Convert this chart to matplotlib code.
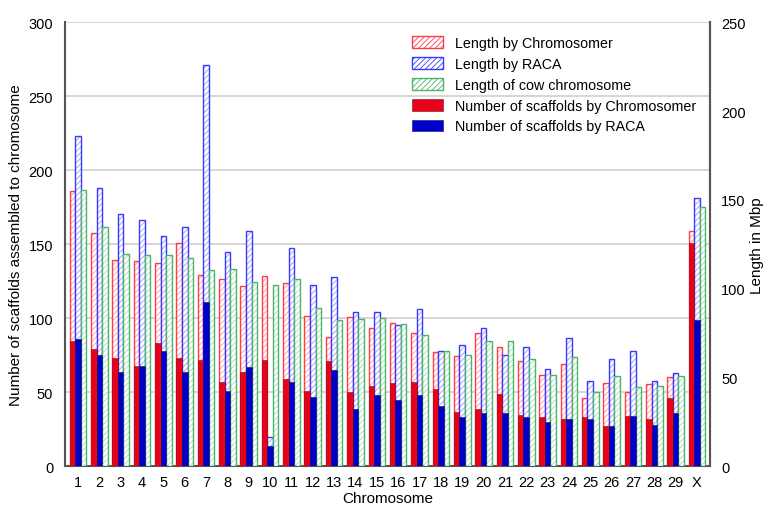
import matplotlib
matplotlib.use("Agg")
import matplotlib.pyplot as plt
import numpy as np
from matplotlib.patches import Patch

plt.rcParams['font.family'] = ['Liberation Sans', 'DejaVu Sans']
plt.rcParams['hatch.linewidth'] = 0.6

chromosomes = [str(i) for i in range(1, 30)] + ['X']

len_chromosomer = [155.0, 131.4, 116.0, 115.4, 114.3, 125.9, 107.9, 105.6, 101.7, 107.0,
                   103.4, 84.5, 73.0, 84.1, 77.7, 80.5, 74.9, 64.2, 62.1, 74.9,
                   67.0, 59.5, 51.6, 57.4, 38.6, 46.7, 41.7, 46.2, 50.3, 132.7]
len_raca = [186.2, 156.9, 142.1, 138.5, 129.7, 134.6, 225.8, 120.5, 132.3, 16.3,
            123.1, 102.3, 106.4, 87.0, 86.7, 79.7, 88.4, 65.1, 68.1, 78.0,
            62.9, 67.0, 54.8, 72.1, 47.9, 60.2, 64.7, 47.9, 52.7, 151.2]
len_cow = [155.4, 134.6, 119.4, 118.8, 119.0, 117.5, 110.4, 111.3, 103.6, 102.3,
           105.3, 89.3, 82.5, 82.9, 83.7, 80.1, 73.8, 64.7, 62.9, 70.7,
           70.4, 60.4, 51.6, 61.5, 42.0, 50.7, 44.5, 45.4, 50.7, 146.0]
num_chromosomer = [85, 79, 73, 68, 83, 73, 72, 57, 64, 72,
                   59, 51, 71, 50, 54, 56, 57, 52, 37, 39,
                   49, 35, 33, 32, 33, 27, 34, 32, 46, 151]
num_raca = [86, 75, 64, 68, 78, 64, 111, 51, 67, 14,
            57, 47, 65, 39, 48, 45, 48, 41, 33, 36,
            36, 33, 30, 32, 32, 27, 34, 28, 36, 99]

x = np.arange(len(chromosomes))
w = 0.26

fig = plt.figure(figsize=(7.65, 5.1), dpi=100)
rect = [65/765, (510-467.3)/510, (710-65)/765, (467.3-23.3)/510]
ax1 = fig.add_axes(rect)
ax2 = ax1.twinx()
ax3 = fig.add_axes(rect, sharex=ax1, sharey=ax1)

ax1.set_zorder(0)
ax2.set_zorder(1)
ax3.set_zorder(2)
ax2.patch.set_visible(False)
ax3.patch.set_visible(False)
ax3.axis('off')

# grid on ax1
ax1.set_ylim(0, 300)
ax1.set_yticks(np.arange(0, 301, 50))
ax1.yaxis.grid(True, color='#d0d0d0', linewidth=1.2)
ax1.set_axisbelow(True)
ax1.set_xlim(-0.61, 29.61)
ax1.set_xticks(x)
ax1.set_xticklabels(chromosomes)
ax1.tick_params(axis='y', length=0, labelsize=10.5, pad=8.5)
ax1.tick_params(axis='x', length=0, labelsize=10.5, pad=6.5)
ax1.set_ylabel('Number of scaffolds assembled to chromosome', fontsize=11, labelpad=4)
ax1.set_xlabel('Chromosome', fontsize=11, labelpad=1)
ax1.spines['top'].set_visible(False)
for s in ['left', 'bottom', 'right']:
    ax1.spines[s].set_color('#555555')
    ax1.spines[s].set_linewidth(1.5)

# hatched length bars on ax2
ax2.set_ylim(0, 250)
ax2.set_yticks(np.arange(0, 251, 50))
ax2.tick_params(length=0, labelsize=10.5, pad=8)
ax2.set_ylabel('Length in Mbp', fontsize=11, labelpad=3)
for s in ax2.spines.values():
    s.set_visible(False)
ax2.spines['right'].set_visible(True)
ax2.spines['right'].set_color('#555555')
ax2.spines['right'].set_linewidth(1.5)

series = [
    (len_chromosomer, -w, '#ff9aa2', '#ff3b4e'),
    (len_raca, 0, '#9a9aff', '#3a3aff'),
    (len_cow, w, '#a6dcb8', '#4db36e'),
]
for vals, off, hc, ec in series:
    ax2.bar(x + off, vals, width=w, facecolor='white', edgecolor=hc,
            hatch='//////', linewidth=0)
    ax2.bar(x + off, vals, width=w, facecolor='none', edgecolor=ec, linewidth=1.0)

# solid scaffold counts on ax3
ax3.bar(x - w, num_chromosomer, width=w, color='#e8001c', edgecolor='#7a1010', linewidth=0.4)
ax3.bar(x, num_raca, width=w, color='#0000cc', edgecolor='#101060', linewidth=0.4)

leg_handles = [
    Patch(facecolor='white', edgecolor='#ff3b4e', hatch='//////', linewidth=1.0),
    Patch(facecolor='white', edgecolor='#3a3aff', hatch='//////', linewidth=1.0),
    Patch(facecolor='white', edgecolor='#4db36e', hatch='//////', linewidth=1.0),
    Patch(facecolor='#e8001c', edgecolor='#7a1010', linewidth=0.4),
    Patch(facecolor='#0000cc', edgecolor='#101060', linewidth=0.4),
]
leg_labels = ['Length by Chromosomer', 'Length by RACA', 'Length of cow chromosome',
              'Number of scaffolds by Chromosomer', 'Number of scaffolds by RACA']
ax3.legend(leg_handles, leg_labels, loc='upper left',
           bbox_to_anchor=((412-65)/645, (467.3-37)/444), frameon=False,
           fontsize=10.3, handlelength=2.2, handleheight=0.9, labelspacing=0.48,
           handletextpad=0.8, borderaxespad=0, borderpad=0)

fig.savefig('out.png', dpi=100)
